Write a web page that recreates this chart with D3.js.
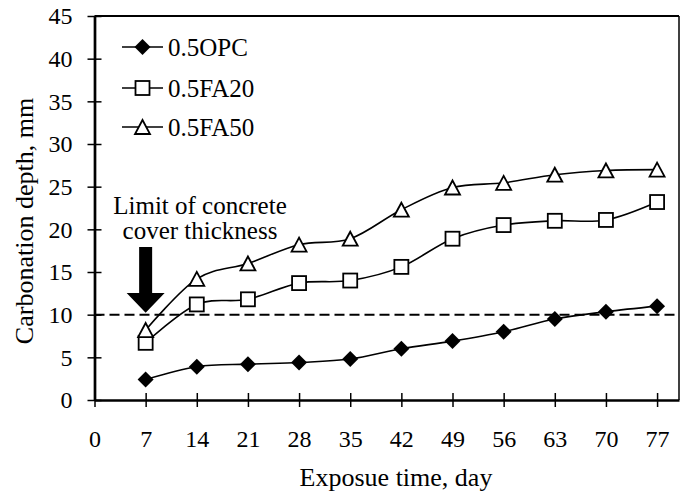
<!DOCTYPE html>
<html>
<head>
<meta charset="utf-8">
<script src="https://cdn.jsdelivr.net/npm/d3@7"></script>
<style>
  html, body { margin: 0; padding: 0; background: #fff; }
  svg { display: block; }
  text { font-family: "Liberation Serif", "Times New Roman", serif; fill: #000; }
</style>
</head>
<body>
<svg id="chart" width="680" height="498"></svg>
<script>
// ---- data ----
const days = [7, 14, 21, 28, 35, 42, 49, 56, 63, 70, 77];
const opc   = [2.4, 3.9, 4.2, 4.4, 4.8, 6.0, 6.9, 8.0, 9.5, 10.35, 11.0];
const fa20  = [6.7, 11.2, 11.8, 13.7, 14.0, 15.6, 18.9, 20.5, 21.0, 21.1, 23.2];
const fa50  = [8.2, 14.2, 16.0, 18.2, 18.9, 22.3, 24.9, 25.45, 26.4, 26.9, 27.0];
const seriesNames = ["0.5OPC", "0.5FA20", "0.5FA50"];
const markerTypes = ["diamond", "square", "triangle"];
const xTicks = [0, 7, 14, 21, 28, 35, 42, 49, 56, 63, 70, 77];
const yTicks = [0, 5, 10, 15, 20, 25, 30, 35, 40, 45];
const limitValue = 10;
const xTitle = "Exposue time, day";
const yTitle = "Carbonation depth, mm";
const annotLines = ["Limit of concrete", "cover thickness"];

const svg = d3.select("#chart");
const L = 94.5, R = 679, T = 16, B = 400;
const x = d3.scaleLinear().domain([0, 80]).range([L, R]);
const y = d3.scaleLinear().domain([0, 45]).range([B, T]);

// frame (top & right)
svg.append("line").attr("x1", L).attr("x2", R).attr("y1", T).attr("y2", T)
  .attr("stroke", "#000").attr("stroke-width", 2);
svg.append("line").attr("x1", R).attr("x2", R).attr("y1", T).attr("y2", B)
  .attr("stroke", "#000").attr("stroke-width", 1.5);

// dashed limit line
svg.append("line").attr("x1", L).attr("x2", R).attr("y1", y(limitValue)).attr("y2", y(limitValue))
  .attr("stroke", "#000").attr("stroke-width", 2).attr("stroke-dasharray", "10,5");

// y axis
const yAxis = svg.append("g").attr("transform", `translate(${L},0)`)
  .call(d3.axisLeft(y).tickValues(yTicks).tickSize(7).tickSizeOuter(0).tickPadding(16));
yAxis.select(".domain").attr("stroke-width", 2.7);
yAxis.selectAll(".tick line").attr("x2", 7).attr("x1", -7).attr("stroke-width", 1.5);
yAxis.selectAll(".tick text").attr("font-size", 24).attr("font-family", "Liberation Serif").attr("dy", "0.33em").attr("x", -22);

// x axis
const xAxis = svg.append("g").attr("transform", `translate(0,${B})`)
  .call(d3.axisBottom(x).tickValues(xTicks).tickSize(7).tickSizeOuter(0));
xAxis.select(".domain").attr("stroke-width", 2.7);
xAxis.selectAll(".tick line").attr("y1", -7).attr("y2", 7).attr("stroke-width", 1.5);
xAxis.selectAll(".tick text").attr("font-size", 24).attr("font-family", "Liberation Serif").attr("dy", 0).attr("y", 47);

// axis titles
svg.append("text").attr("x", 396).attr("y", 486).attr("text-anchor", "middle")
  .attr("font-size", 26).text(xTitle);
svg.append("text").attr("transform", "translate(33,221) rotate(-90)").attr("text-anchor", "middle")
  .attr("font-size", 26).text(yTitle);

// series
const allSeries = [opc, fa20, fa50];
const line = d3.line().x(d => x(d[0])).y(d => y(d[1])).curve(d3.curveCatmullRom.alpha(0));

function drawMarker(g, type, cx, cy) {
  if (type === "diamond") {
    g.append("path").attr("d", `M${cx},${cy-8}L${cx+8},${cy}L${cx},${cy+8}L${cx-8},${cy}Z`)
      .attr("fill", "#000");
  } else if (type === "square") {
    g.append("rect").attr("x", cx-7).attr("y", cy-7).attr("width", 14).attr("height", 14)
      .attr("fill", "#fff").attr("stroke", "#000").attr("stroke-width", 1.8);
  } else {
    g.append("path").attr("d", `M${cx},${cy-7}L${cx+7.5},${cy+7}L${cx-7.5},${cy+7}Z`)
      .attr("fill", "#fff").attr("stroke", "#000").attr("stroke-width", 1.8);
  }
}

allSeries.forEach((vals, i) => {
  const pts = days.map((d, j) => [d, vals[j]]);
  svg.append("path").attr("d", line(pts)).attr("fill", "none").attr("stroke", "#000").attr("stroke-width", 1.6);
  const g = svg.append("g");
  pts.forEach(p => drawMarker(g, markerTypes[i], x(p[0]), y(p[1])));
});

// legend
const legY = [47, 88, 127];
seriesNames.forEach((name, i) => {
  const g = svg.append("g");
  g.append("line").attr("x1", 122).attr("x2", 163).attr("y1", legY[i]).attr("y2", legY[i])
    .attr("stroke", "#000").attr("stroke-width", 1.6);
  drawMarker(g, markerTypes[i], 142.5, legY[i]);
  g.append("text").attr("x", 168).attr("y", legY[i] + 9).attr("font-size", 25).text(name);
});

// annotation
annotLines.forEach((t, i) => {
  svg.append("text").attr("x", 200).attr("y", 214 + i * 25).attr("text-anchor", "middle")
    .attr("font-size", 25).text(t);
});
// arrow pointing down at day 7 near the limit line
const ax = x(days[0]);
svg.append("path")
  .attr("d", `M${ax-6.5},247L${ax+6.5},247L${ax+6.5},293L${ax+19},293L${ax},${y(limitValue)-2}L${ax-19},293L${ax-6.5},293Z`)
  .attr("fill", "#000");
</script>
</body>
</html>
